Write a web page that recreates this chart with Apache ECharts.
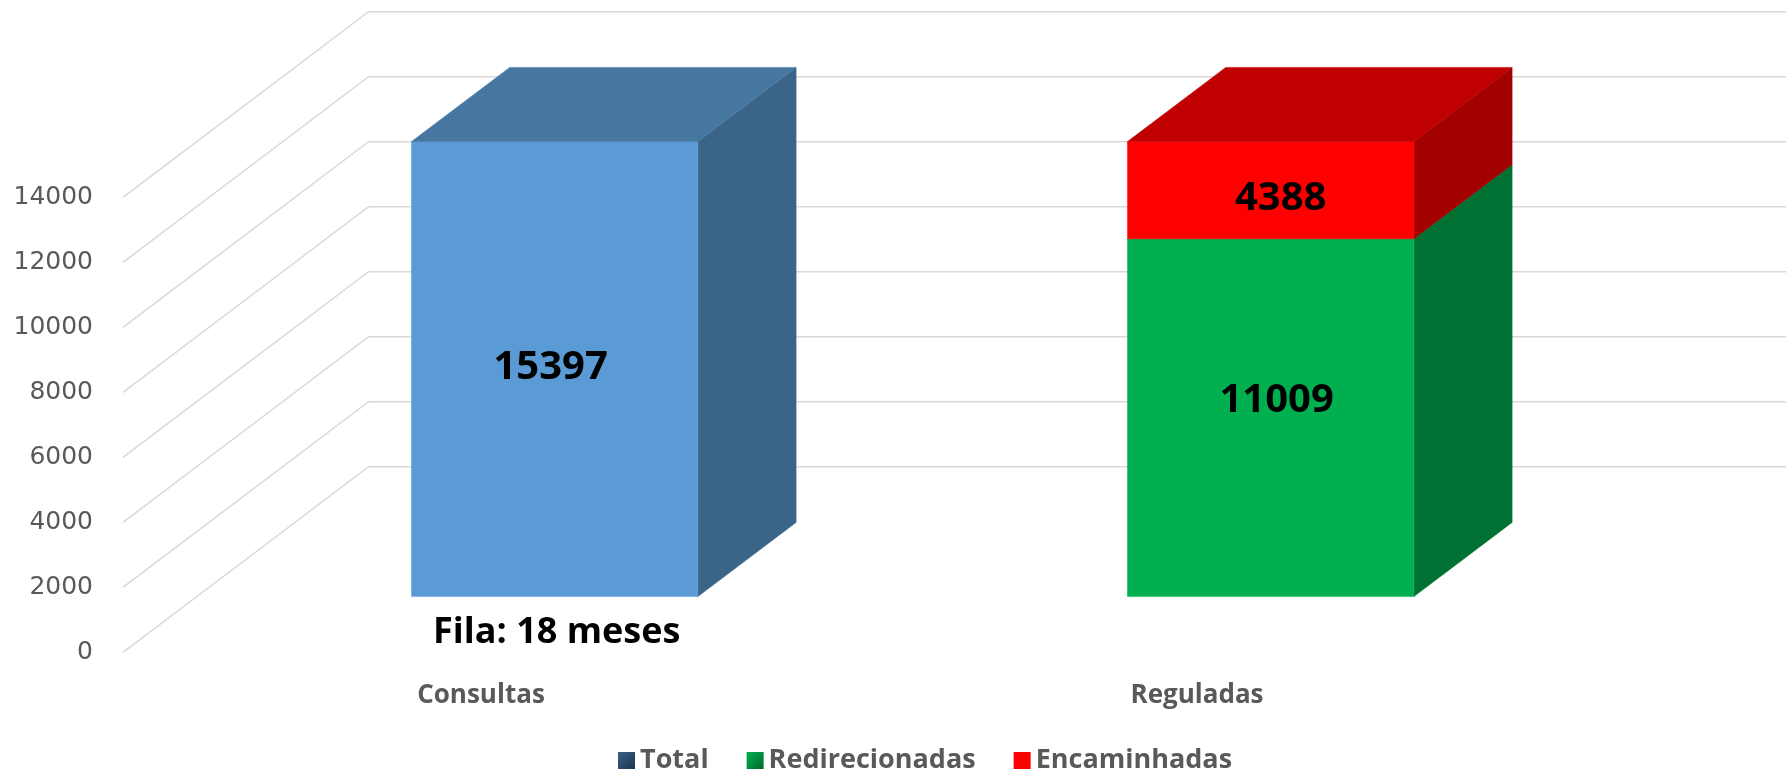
<!DOCTYPE html>
<html><head><meta charset="utf-8">
<script src="https://cdn.jsdelivr.net/npm/echarts@6/dist/echarts.min.js"></script>
<style>html,body{margin:0;padding:0;background:#fff}#c{width:1786px;height:774px}</style>
</head><body><div id="c"></div>
<script>
// ---- data ----
const categories = ['Consultas', 'Reguladas'];
const totalValues = [15397, null];
const redirecionadasValues = [null, 11009];
const encaminhadasValues = [null, 4388];
const annotations = ['Fila: 18 meses', ''];
const yTicks = [0, 2000, 4000, 6000, 8000, 10000, 12000, 14000];
const yMax = 14000;
const yInterval = 2000;

// ---- 3D projection settings (style) ----
const DX = 245.6, DY = -185.6;      // floor depth vector
const DEPTH_FRONT = 0.3, DEPTH_SIZE = 0.4;
const BAR_FRAC = 0.4;
const BOLD = '"Open Sans", "Noto Sans", sans-serif';

const chart = echarts.init(document.getElementById('c'), null, {renderer: 'canvas'});

function makeRender(values, bases, col, labelOff, topFn, notes) {
  return function (params, api) {
    const i = api.value(0);
    const v = values[i];
    if (v == null) return;
    const base = bases ? (bases[i] || 0) : 0;
    if (base >= yMax) return;
    const topV = Math.min(base + v, yMax);
    const c0 = api.coord([i, base]);
    const c1 = api.coord([i, topV]);
    const band = api.size([1, 0])[0];
    const w = band * BAR_FRAC;
    const ox = DX * DEPTH_FRONT, oy = DY * DEPTH_FRONT;
    const dx = DX * DEPTH_SIZE, dy = DY * DEPTH_SIZE;
    const x0 = c0[0] - w / 2 + ox, x1 = c0[0] + w / 2 + ox;
    const yb = c0[1] + oy, yt = c1[1] + oy;
    const children = [
      {type: 'polygon', shape: {points: [[x1, yt], [x1 + dx, yt + dy], [x1 + dx, yb + dy], [x1, yb]]},
        style: {fill: col.side, stroke: col.side, lineWidth: 0.5}},
      {type: 'rect', shape: {x: x0, y: yt, width: x1 - x0, height: yb - yt},
        style: {fill: col.front, stroke: col.front, lineWidth: 0.5}}
    ];
    if (topFn(i)) {
      children.push({type: 'polygon', shape: {points: [[x0, yt], [x1, yt], [x1 + dx, yt + dy], [x0 + dx, yt + dy]]},
        style: {fill: col.top, stroke: col.top, lineWidth: 0.5}});
    }
    children.push({type: 'text', style: {
      text: String(v), x: (x0 + x1) / 2 + labelOff[0], y: (yt + yb) / 2 + labelOff[1],
      fill: '#000', font: 'bold 40px ' + BOLD, align: 'center', verticalAlign: 'middle'}});
    if (notes && notes[i]) {
      children.push({type: 'text', style: {
        text: notes[i], x: (x0 + x1) / 2 + 2, y: yb + 36,
        fill: '#000', font: 'bold 36px ' + BOLD, align: 'center', verticalAlign: 'middle'}});
    }
    return {type: 'group', children: children};
  };
}

function toData(values) { return values.map((v, i) => [i, v == null ? '-' : v]); }

const option = {
  animation: false,
  backgroundColor: '#fff',
  grid: {left: 123, top: 197.3, width: 1432, height: 455},
  xAxis: {
    type: 'category', data: categories,
    axisLine: {show: false}, axisTick: {show: false}, splitLine: {show: false},
    axisLabel: {color: '#595959', fontFamily: BOLD, fontWeight: 'bold', fontSize: 26, margin: 30}
  },
  yAxis: {
    type: 'value', min: 0, max: yMax, interval: yInterval,
    axisLine: {show: false}, axisTick: {show: false}, splitLine: {show: false},
    axisLabel: {color: '#595959', fontFamily: 'DejaVu Sans', fontSize: 25, margin: 30,
      formatter: v => String(v)}
  },
  legend: {
    left: 613, top: 742, itemWidth: 17, itemHeight: 17, itemGap: 38, icon: 'rect',
    textStyle: {color: '#595959', fontFamily: BOLD, fontWeight: 'bold', fontSize: 27},
    data: [
      {name: 'Total', itemStyle: {color: new echarts.graphic.LinearGradient(0, 0, 1, 1, [{offset: 0, color: '#3a5f86'}, {offset: 1, color: '#1d3550'}])}},
      {name: 'Redirecionadas', itemStyle: {color: new echarts.graphic.LinearGradient(0, 0, 1, 1, [{offset: 0, color: '#00b050'}, {offset: 1, color: '#006a2e'}])}},
      {name: 'Encaminhadas', itemStyle: {color: '#ff0000'}}
    ]
  },
  series: [
    {
      name: 'gridlines', type: 'custom', silent: true, clip: false,
      data: yTicks.map(v => [0, v]),
      renderItem: function (params, api) {
        const cs = params.coordSys;
        const y = api.coord([0, api.value(1)])[1];
        const xL = cs.x;
        return {type: 'polyline', shape: {points: [[xL, y], [xL + DX, y + DY], [cs.x + cs.width + DX, y + DY]]},
          style: {stroke: '#d9d9d9', lineWidth: 1.5, fill: null}};
      }
    },
    {
      name: 'Total', type: 'custom', clip: false, data: toData(totalValues),
      itemStyle: {color: '#2d4d70'},
      renderItem: makeRender(totalValues, null, {front: '#5b9bd5', top: '#4677a1', side: '#3a6588'}, [-4, -2], () => true, annotations)
    },
    {
      name: 'Redirecionadas', type: 'custom', clip: false, data: toData(redirecionadasValues),
      itemStyle: {color: '#00b050'},
      renderItem: makeRender(redirecionadasValues, null, {front: '#00b050', top: '#008a3e', side: '#007033'}, [6, -17],
        i => encaminhadasValues[i] == null || redirecionadasValues[i] >= yMax)
    },
    {
      name: 'Encaminhadas', type: 'custom', clip: false, data: toData(encaminhadasValues),
      itemStyle: {color: '#ff0000'},
      renderItem: makeRender(encaminhadasValues, redirecionadasValues, {front: '#ff0000', top: '#c00000', side: '#a30000'}, [10, 8], () => true)
    }
  ]
};
chart.setOption(option);
</script></body></html>
